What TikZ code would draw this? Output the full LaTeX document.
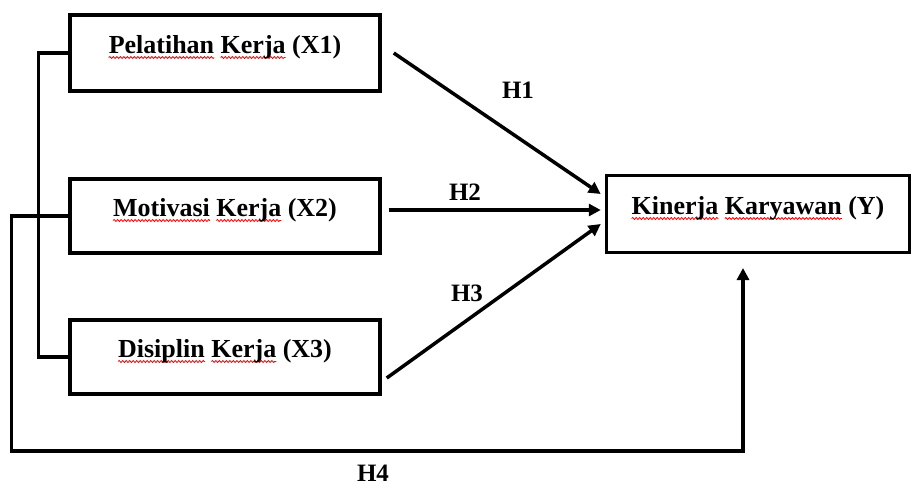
\documentclass[tikz,border=0pt]{standalone}
\usepackage{fontspec}
\setmainfont{Liberation Serif}
\usetikzlibrary{arrows.meta,decorations.pathmorphing}

\newcommand{\spellmark}[1]{\setbox0\hbox{#1}\rlap{\tikz[overlay]\draw[red, line width=0.8pt, decorate,
    decoration={snake, amplitude=1pt, segment length=3.5pt}] (0pt,-4.5pt) -- (\the\wd0,-4.5pt);}\box0\relax}

\begin{document}
\begin{tikzpicture}[x=1pt, y=-1pt,
    box/.style={draw, line width=3.5pt, minimum width=310pt, minimum height=76pt,
        inner sep=0pt, text height=14pt, text depth=14pt,
        font=\fontsize{26}{30}\selectfont\bfseries},
    hyp/.style={font=\fontsize{25}{30}\selectfont\bfseries, inner sep=0pt},
    link/.style={line width=3.5pt},
    arrow/.style={line width=3.5pt, -{Triangle[length=12pt,width=12pt]}}]

    \useasboundingbox (0,0) rectangle (916,488);

    \node[box] (x1) at (225,53)  {\spellmark{Pelatihan} \spellmark{Kerja} (X1)};
    \node[box, minimum height=74pt] (x2) at (225,216) {\spellmark{Motivasi} \spellmark{Kerja} (X2)};
    \node[box, minimum height=74pt] (x3) at (225,357) {\spellmark{Disiplin} \spellmark{Kerja} (X3)};

    \node[box, minimum width=303pt, minimum height=77pt] (y) at (758,214) {\spellmark{Kinerja} \spellmark{Karyawan} (Y)};

    \coordinate (h4end) at (743,268);
    \coordinate (h4low) at (743,451);

    \node[hyp] (h1) at (518,90)  {H1};
    \node[hyp] (h2) at (465,192) {H2};
    \node[hyp] (h3) at (467,293) {H3};
    \node[hyp] (h4) at (373,473) {H4};

    \draw[link] (x1.west) -- ++(-30,0) |- (x3.west);
    \draw[link] (x2.west) -- ++(-30,0);
    \draw[arrow] (x2.west) -- ++(-57,0) |- (h4low) -- (h4end);

    \draw[arrow] ([xshift=12pt]x1.east) -- ([shift={(-4,-20)}]y.west);
    \draw[arrow] ([shift={(7,-6)}]x2.east) -- ([shift={(-4,-4)}]y.west);
    \draw[arrow] ([shift={(5,21)}]x3.east) -- ([shift={(-4,10)}]y.west);

\end{tikzpicture}
\end{document}
